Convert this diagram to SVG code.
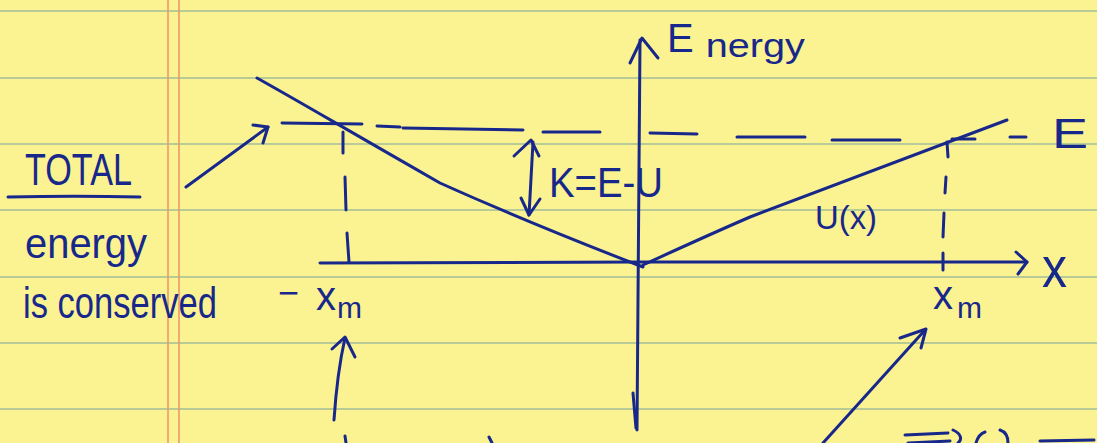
<svg xmlns="http://www.w3.org/2000/svg" width="1097" height="443" viewBox="0 0 1097 443">
<style>
.rule{stroke:#a3bf98;stroke-width:1.6;fill:none}
.margin{stroke:#eb9a6c;stroke-width:1.6;fill:none}
.pen{stroke:#18288a;stroke-width:3;fill:none;stroke-linecap:round;stroke-linejoin:round}
.ink{fill:#18288a;font-family:"Liberation Sans","DejaVu Sans",sans-serif}
</style>
<g id="paper">
<rect x="0" y="0" width="1097" height="443" fill="#fbf392"/>
<path class="rule" d="M0,11H1097M0,78H1097M0,144H1097M0,210H1097M0,277H1097M0,343H1097M0,409H1097"/>
<path class="margin" d="M168,0V443M179,0V443"/>
</g>
<g id="axes">
<path class="pen" d="M640,40 L638,300 L637,430"/>
<path class="pen" d="M630,63 L642,38 L658,58"/>
<path class="pen" d="M633,393 L636,428"/>
<path class="pen" d="M320,263 L640,262 L1027,262"/>
<path class="pen" d="M1016,252 L1027,262 L1018,274"/>
</g>
<g id="potential">
<path class="pen" d="M257,78 C300,102 330,120 440,183 C500,210 560,235 643,267"/>
<path class="pen" d="M643,265 C680,248 720,230 750,217 L1007,120"/>
</g>
<g id="total-energy-line">
<path class="pen" d="M282,123 L362,124 M377,126 L400,127 M403,128 L523,130 M543,132 L600,132 M650,133 L697,134 M737,137 L805,137 M832,140 L900,140 M952,139 L975,139 M1010,137 L1026,137"/>
</g>
<g id="turning-points">
<path class="pen" d="M343,132 L343,153 M345,177 L346,210 M347,233 L349,262"/>
<path class="pen" d="M947,142 L948,157 M946,177 L945,193 M944,213 L943,237 M943,253 L943,270"/>
</g>
<g id="connectors">
<path class="pen" d="M186,187 L268,127"/>
<path class="pen" d="M253,125 L268,127 L263,143"/>
<path class="pen" d="M533,142 L529,215"/>
<path class="pen" d="M514,156 L531,140 L539,156"/>
<path class="pen" d="M521,198 L529,215 L540,199"/>
<path class="pen" d="M334,420 C336,390 340,360 345,338"/>
<path class="pen" d="M332,349 L345,337 L355,357"/>
<path class="pen" d="M823,443 L925,330"/>
<path class="pen" d="M900,338 L926,329 L921,348"/>
<path class="pen" d="M8,197 C50,196 100,196 140,197"/>
</g>
<g id="next-line-fragments">
<path class="pen" d="M345,436 L346,443 M489,437 L492,443"/>
<path class="pen" d="M905,435 L948,433 M908,443 L950,441 M953,430 C962,434 962,440 958,443"/>
<path class="pen" d="M976,443 C978,436 982,433 985,432 M1000,430 C1006,432 1008,438 1008,443"/>
<path class="pen" d="M1040,441 L1094,440"/>
</g>
<g id="labels">
<text class="ink" x="667" y="52" font-size="40">E<tspan dx="12" dy="5" font-size="34" textLength="99" lengthAdjust="spacingAndGlyphs">nergy</tspan></text>
<text class="ink" x="1052" y="148" font-size="42" textLength="36" lengthAdjust="spacingAndGlyphs">E</text>
<text class="ink" x="1042" y="287" font-size="58" textLength="25" lengthAdjust="spacingAndGlyphs">x</text>
<text class="ink" x="549" y="197" font-size="42" textLength="114" lengthAdjust="spacingAndGlyphs">K=E-U</text>
<text class="ink" x="815" y="229" font-size="34" textLength="62" lengthAdjust="spacingAndGlyphs">U(x)</text>
<text class="ink" x="933" y="309" font-size="40">x</text>
<text class="ink" x="957" y="318" font-size="30">m</text>
<text class="ink" x="278" y="305" font-size="36">−</text>
<text class="ink" x="316" y="310" font-size="40">x</text>
<text class="ink" x="337" y="318" font-size="30">m</text>
<text class="ink" x="25" y="185" font-size="44" textLength="107" lengthAdjust="spacingAndGlyphs">TOTAL</text>
<text class="ink" x="25" y="258" font-size="42" textLength="122" lengthAdjust="spacingAndGlyphs">energy</text>
<text class="ink" x="23" y="318" font-size="44" textLength="194" lengthAdjust="spacingAndGlyphs">is conserved</text>
</g>
</svg>
